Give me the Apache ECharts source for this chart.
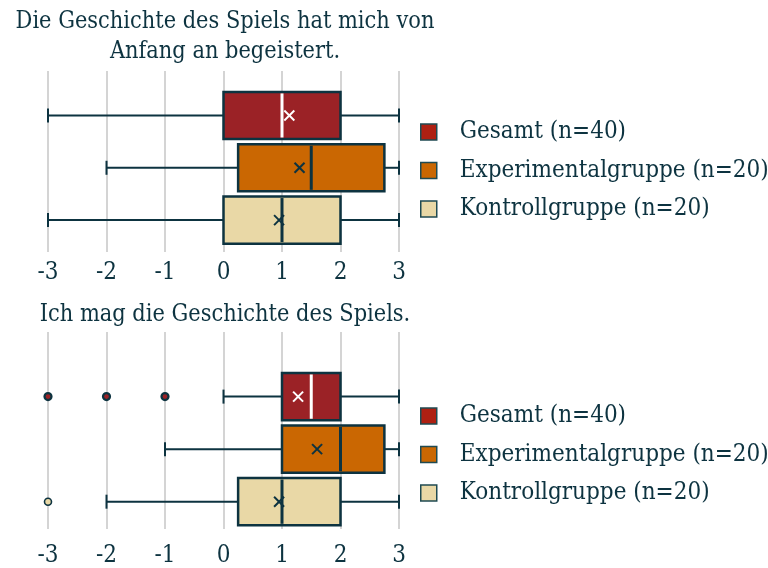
<!DOCTYPE html>
<html>
<head>
<meta charset="utf-8">
<script src="https://cdn.jsdelivr.net/npm/echarts@6/dist/echarts.min.js"></script>
<style>
  html, body { margin: 0; padding: 0; background: #ffffff; }
  #chart { width: 768px; height: 568px; }
</style>
</head>
<body>
<div id="chart"></div>
<script>
// Gruppen und Achsenbeschriftung
const groups = ['Gesamt (n=40)', 'Experimentalgruppe (n=20)', 'Kontrollgruppe (n=20)'];
const ticks = [-3, -2, -1, 0, 1, 2, 3];

// Aussage 1: "Die Geschichte des Spiels hat mich von Anfang an begeistert."
const q1Title = 'Die Geschichte des Spiels hat mich von\nAnfang an begeistert.';
const q1Min    = [-3, -2, -3];
const q1Q1     = [0, 0.25, 0];
const q1Median = [1, 1.5, 1];
const q1Q3     = [2, 2.75, 2];
const q1Max    = [3, 3, 3];
const q1Mean   = [1.125, 1.3, 0.95];
const q1Outliers = [[], [], []];

// Aussage 2: "Ich mag die Geschichte des Spiels."
const q2Title = 'Ich mag die Geschichte des Spiels.';
const q2Min    = [0, -1, -2];
const q2Q1     = [1, 1, 0.25];
const q2Median = [1.5, 2, 1];
const q2Q3     = [2, 2.75, 2];
const q2Max    = [3, 3, 3];
const q2Mean   = [1.275, 1.6, 0.95];
const q2Outliers = [[-3, -2, -1], [], [-3]];

// Farben
const ink = '#0d3340';
const boxFill = ['#9b2226', '#ca6702', '#e9d8a6'];
const legendFill = ['#ae2012', '#ca6702', '#e9d8a6'];
const medianColor = ['#ffffff', ink, ink];
const meanColor = ['#ffffff', ink, ink];
const gridColor = '#c6c6c6';
const fontFamily = "'DejaVu Serif Condensed', 'DejaVu Serif', serif";

function renderBox(params, api) {
  const cat = api.value(0);
  const g = api.value(7);
  const y = api.coord([0, cat])[1];
  const half = api.size([0, 1])[1] * 0.45;
  const xMin = api.coord([api.value(1), cat])[0];
  const xQ1 = api.coord([api.value(2), cat])[0];
  const xMed = api.coord([api.value(3), cat])[0];
  const xQ3 = api.coord([api.value(4), cat])[0];
  const xMax = api.coord([api.value(5), cat])[0];
  const xMean = api.coord([api.value(6), cat])[0];
  const capH = 7;
  const crossR = 5;
  const lineStyle = { stroke: ink, lineWidth: 2 };
  return {
    type: 'group',
    children: [
      { type: 'line', shape: { x1: xMin, y1: y, x2: xQ1, y2: y }, style: lineStyle },
      { type: 'line', shape: { x1: xQ3, y1: y, x2: xMax, y2: y }, style: lineStyle },
      { type: 'line', shape: { x1: xMin, y1: y - capH, x2: xMin, y2: y + capH }, style: lineStyle },
      { type: 'line', shape: { x1: xMax, y1: y - capH, x2: xMax, y2: y + capH }, style: lineStyle },
      { type: 'rect', shape: { x: xQ1, y: y - half, width: xQ3 - xQ1, height: half * 2 },
        style: { fill: boxFill[g], stroke: ink, lineWidth: 2.5 } },
      { type: 'line', shape: { x1: xMed, y1: y - half + 1.5, x2: xMed, y2: y + half - 1.5 },
        style: { stroke: medianColor[g], lineWidth: 3 } },
      { type: 'line', shape: { x1: xMean - crossR, y1: y - crossR, x2: xMean + crossR, y2: y + crossR },
        style: { stroke: meanColor[g], lineWidth: 2 } },
      { type: 'line', shape: { x1: xMean - crossR, y1: y + crossR, x2: xMean + crossR, y2: y - crossR },
        style: { stroke: meanColor[g], lineWidth: 2 } }
    ]
  };
}

function buildSeries(gridIndex, mins, q1s, meds, q3s, maxs, means, outliers) {
  const out = [];
  groups.forEach((name, g) => {
    out.push({
      type: 'custom',
      name: name,
      xAxisIndex: gridIndex,
      yAxisIndex: gridIndex,
      renderItem: renderBox,
      itemStyle: { color: legendFill[g] },
      encode: { x: [1, 2, 3, 4, 5], y: 0 },
      data: [[g, mins[g], q1s[g], meds[g], q3s[g], maxs[g], means[g], g]],
      z: 3
    });
    if (outliers[g].length) {
      out.push({
        type: 'scatter',
        name: name,
        xAxisIndex: gridIndex,
        yAxisIndex: gridIndex,
        symbol: 'circle',
        symbolSize: 7,
        itemStyle: { color: boxFill[g], borderColor: ink, borderWidth: g === 0 ? 2.2 : 1.6, opacity: 1 },
        data: outliers[g].map(v => [v, g]),
        z: 4
      });
    }
  });
  return out;
}

function xAxisCfg(gridIndex, margin) {
  return {
    type: 'value',
    gridIndex: gridIndex,
    min: ticks[0],
    max: ticks[ticks.length - 1],
    interval: 1,
    axisLine: { show: false },
    axisTick: { show: false },
    splitLine: { show: true, lineStyle: { color: gridColor, width: 1.5 } },
    axisLabel: { color: ink, fontFamily: fontFamily, fontSize: 24, margin: margin }
  };
}

function yAxisCfg(gridIndex, lo, hi) {
  return {
    type: 'value',
    gridIndex: gridIndex,
    inverse: true,
    min: lo,
    max: hi,
    show: false,
    splitLine: { show: false }
  };
}

function legendCfg(top) {
  return {
    orient: 'vertical',
    left: 415,
    top: top,
    icon: 'rect',
    itemWidth: 16,
    itemHeight: 16,
    itemGap: 14.5,
    selectedMode: false,
    textStyle: { color: ink, fontFamily: fontFamily, fontSize: 24, lineHeight: 22, padding: [0, 0, 0, 18] },
    data: groups.map((name, g) => ({
      name: name,
      itemStyle: { color: legendFill[g], borderColor: '#1f4a52', borderWidth: 1.5 }
    }))
  };
}

const chart = echarts.init(document.getElementById('chart'), null, { renderer: 'canvas' });
chart.setOption({
  animation: false,
  backgroundColor: '#ffffff',
  title: [
    { text: q1Title, left: 220, top: 2, textAlign: 'center',
      textStyle: { color: ink, fontFamily: fontFamily, fontSize: 23.3, fontWeight: 'normal', lineHeight: 30 } },
    { text: q2Title, left: 220, top: 295, textAlign: 'center',
      textStyle: { color: ink, fontFamily: fontFamily, fontSize: 23.3, fontWeight: 'normal', lineHeight: 30 } }
  ],
  legend: [legendCfg(115), legendCfg(399)],
  grid: [
    { left: 48, width: 351, top: 71, height: 181 },
    { left: 48, width: 351, top: 332, height: 198 }
  ],
  xAxis: [xAxisCfg(0, 9), xAxisCfg(1, 15)],
  yAxis: [yAxisCfg(0, -0.85, 2.61), yAxisCfg(1, -1.23, 2.52)],
  series: [
    ...buildSeries(0, q1Min, q1Q1, q1Median, q1Q3, q1Max, q1Mean, q1Outliers),
    ...buildSeries(1, q2Min, q2Q1, q2Median, q2Q3, q2Max, q2Mean, q2Outliers)
  ]
});
</script>
</body>
</html>
